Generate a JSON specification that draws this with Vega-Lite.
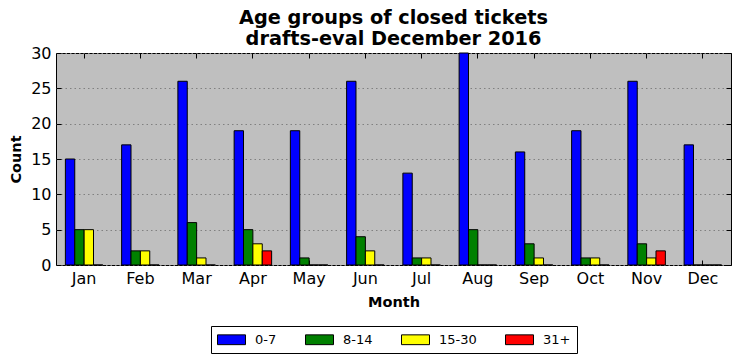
{
  "$schema": "https://vega.github.io/schema/vega-lite/v6.json",
  "width": 675,
  "height": 212,
  "autosize": {"type": "none"},
  "padding": {"left": 56, "top": 53, "right": 10, "bottom": 96},
  "background": "white",
  "title": {
    "text": ["Age groups of closed tickets", "drafts-eval December 2016"],
    "font": "DejaVu Sans",
    "fontSize": 19.3,
    "fontWeight": "bold",
    "color": "black",
    "lineHeight": 21,
    "offset": -4,
    "anchor": "middle"
  },
  "config": {
    "font": "DejaVu Sans",
    "view": {"fill": "#bfbfbf", "stroke": "black", "strokeWidth": 1},
    "axis": {
      "domain": false,
      "tickColor": "black",
      "tickWidth": 1,
      "labelColor": "black",
      "titleColor": "black",
      "labelFont": "DejaVu Sans",
      "titleFont": "DejaVu Sans",
      "labelFontSize": 16,
      "titleFontSize": 14.5,
      "titleFontWeight": "bold"
    }
  },
  "data": {
    "values": [
      {"month": "Jan", "group": "0-7", "count": 15}, {"month": "Jan", "group": "8-14", "count": 5}, {"month": "Jan", "group": "15-30", "count": 5}, {"month": "Jan", "group": "31+", "count": 0},
      {"month": "Feb", "group": "0-7", "count": 17}, {"month": "Feb", "group": "8-14", "count": 2}, {"month": "Feb", "group": "15-30", "count": 2}, {"month": "Feb", "group": "31+", "count": 0},
      {"month": "Mar", "group": "0-7", "count": 26}, {"month": "Mar", "group": "8-14", "count": 6}, {"month": "Mar", "group": "15-30", "count": 1}, {"month": "Mar", "group": "31+", "count": 0},
      {"month": "Apr", "group": "0-7", "count": 19}, {"month": "Apr", "group": "8-14", "count": 5}, {"month": "Apr", "group": "15-30", "count": 3}, {"month": "Apr", "group": "31+", "count": 2},
      {"month": "May", "group": "0-7", "count": 19}, {"month": "May", "group": "8-14", "count": 1}, {"month": "May", "group": "15-30", "count": 0}, {"month": "May", "group": "31+", "count": 0},
      {"month": "Jun", "group": "0-7", "count": 26}, {"month": "Jun", "group": "8-14", "count": 4}, {"month": "Jun", "group": "15-30", "count": 2}, {"month": "Jun", "group": "31+", "count": 0},
      {"month": "Jul", "group": "0-7", "count": 13}, {"month": "Jul", "group": "8-14", "count": 1}, {"month": "Jul", "group": "15-30", "count": 1}, {"month": "Jul", "group": "31+", "count": 0},
      {"month": "Aug", "group": "0-7", "count": 30}, {"month": "Aug", "group": "8-14", "count": 5}, {"month": "Aug", "group": "15-30", "count": 0}, {"month": "Aug", "group": "31+", "count": 0},
      {"month": "Sep", "group": "0-7", "count": 16}, {"month": "Sep", "group": "8-14", "count": 3}, {"month": "Sep", "group": "15-30", "count": 1}, {"month": "Sep", "group": "31+", "count": 0},
      {"month": "Oct", "group": "0-7", "count": 19}, {"month": "Oct", "group": "8-14", "count": 1}, {"month": "Oct", "group": "15-30", "count": 1}, {"month": "Oct", "group": "31+", "count": 0},
      {"month": "Nov", "group": "0-7", "count": 26}, {"month": "Nov", "group": "8-14", "count": 3}, {"month": "Nov", "group": "15-30", "count": 1}, {"month": "Nov", "group": "31+", "count": 2},
      {"month": "Dec", "group": "0-7", "count": 17}, {"month": "Dec", "group": "8-14", "count": 0}, {"month": "Dec", "group": "15-30", "count": 0}, {"month": "Dec", "group": "31+", "count": 0}
    ]
  },
  "resolve": {"axis": {"x": "independent", "y": "independent"}},
  "layer": [
    {
      "mark": {"type": "bar", "stroke": "black", "strokeWidth": 1, "opacity": 1},
      "encoding": {
        "x": {
          "field": "month", "type": "nominal", "sort": null,
          "scale": {"paddingInner": 0.3333, "paddingOuter": 0.1667},
          "axis": {"orient": "bottom", "title": "Month", "labelAngle": 0, "tickSize": -5, "labelPadding": 10, "titlePadding": 9, "grid": false}
        },
        "xOffset": {"field": "group", "type": "nominal", "sort": ["0-7", "8-14", "15-30", "31+"]},
        "y": {
          "field": "count", "type": "quantitative",
          "scale": {"domain": [0, 30], "nice": false},
          "axis": {"orient": "left", "title": "Count", "values": [0, 5, 10, 15, 20, 25, 30], "tickSize": -5, "labelPadding": 10, "titlePadding": 7, "grid": true, "gridColor": "#808080", "gridDash": [1.5, 3], "gridWidth": 1}
        },
        "color": {
          "field": "group", "type": "nominal",
          "sort": ["0-7", "8-14", "15-30", "31+"],
          "scale": {"domain": ["0-7", "8-14", "15-30", "31+"], "range": ["#0000ff", "#008000", "#ffff00", "#ff0000"]},
          "legend": {
            "title": null,
            "orient": "none",
            "legendX": 155,
            "legendY": 273,
            "direction": "horizontal",
            "symbolType": "M-1,-0.7H3V0.7H-1Z",
            "symbolSize": 196,
            "symbolStrokeColor": "black",
            "symbolStrokeWidth": 1,
            "symbolOpacity": 1,
            "labelOffset": 23,
            "labelFont": "DejaVu Sans",
            "labelFontSize": 13,
            "labelColor": "black",
            "columnPadding": 26,
            "padding": 6,
            "strokeColor": "black",
            "fillColor": "white"
          }
        }
      }
    },
    {
      "mark": {"type": "point", "opacity": 0},
      "encoding": {
        "x": {
          "field": "month", "type": "nominal", "sort": null,
          "axis": {"orient": "top", "title": null, "labels": false, "tickSize": -5, "grid": false}
        },
        "y": {
          "field": "count", "type": "quantitative",
          "axis": {"orient": "right", "title": null, "labels": false, "values": [0, 5, 10, 15, 20, 25, 30], "tickSize": -5, "grid": false}
        }
      }
    }
  ]
}
